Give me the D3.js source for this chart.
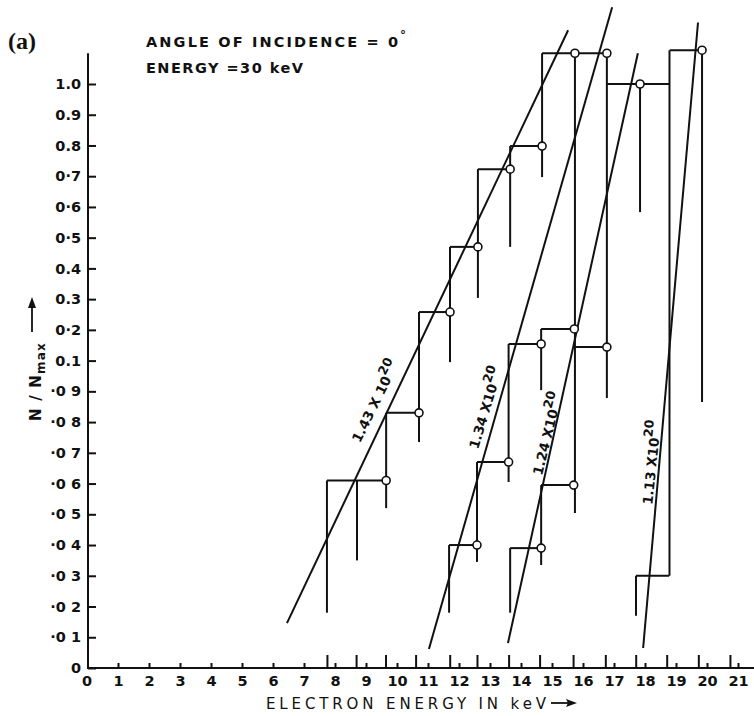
<html>
<head>
    <title>N/Nmax vs electron energy</title>
    <meta charset="UTF-8" />
    <script src="https://d3js.org/d3.v7.min.js"></script>

    <style>
        body { margin: 0; background: white; }
        text { font-family: "DejaVu Sans", sans-serif; fill: #111; }
        .axis path.domain { display: none; }
        .axis line { stroke: #111; stroke-width: 2; }
        .axis text { font-family: "DejaVu Sans", sans-serif; font-weight: bold; font-size: 14.5px; fill: #111; }
        .mark { stroke: #111; stroke-width: 2; fill: none; }
    </style>
</head>

<body>
    <svg height="716" width="754" id="svg1"></svg>

    <script>
        // ---- data ----
        const yTickValues = [0, 0.01, 0.02, 0.03, 0.04, 0.05, 0.06, 0.07, 0.08, 0.09,
                             0.1, 0.2, 0.3, 0.4, 0.5, 0.6, 0.7, 0.8, 0.9, 1.0];
        const yTickLabels = ["0", "·0 1", "·0 2", "·0 3", "·0 4", "·0 5", "·0 6", "·0 7", "·0 8", "·0 9",
                             "0.1", "0·2", "0.3", "0.4", "0·5", "0·6", "0·7", "0.8", "0.9", "1.0"];
        const xTickValues = [0, 1, 2, 3, 4, 5, 6, 7, 8, 9, 10, 11, 12, 13, 14, 15, 16, 17, 18, 19, 20, 21];
        const xTickLabels = ["0", "1", "2", "3", "4", "5", "6", "7", "8", "9", "10", "11", "12", "13",
                             "14", "15", "16", "17", "18", "19", "20", "21"];
        // channel edges (long ticks on the energy axis)
        const binEdges = [7.74, 8.68, 9.63, 10.6, 11.7, 12.58, 13.6, 14.6, 15.68, 16.72, 17.7, 18.7, 19.72, 20.74];

        // steps: [from keV, to keV, N/Nmax, open circle at right end]
        const stepsA = [[7.74, 9.65, 0.061, true], [9.65, 10.71, 0.083, true], [10.71, 11.71, 0.258, true],
                        [11.71, 12.61, 0.47, true], [12.61, 13.65, 0.723, true], [13.65, 14.68, 0.798, true],
                        [14.68, 15.74, 1.1, true]];
        const stepsB = [[11.68, 12.58, 0.040, true], [12.58, 13.6, 0.067, true], [13.6, 14.65, 0.154, true],
                        [14.65, 15.72, 0.203, true], [15.74, 16.77, 1.1, true]];
        const stepsC = [[13.65, 14.65, 0.039, true], [14.65, 15.7, 0.0595, true], [15.72, 16.77, 0.144, true],
                        [16.77, 17.84, 1.0, true], [17.84, 18.8, 1.0, false]];
        const stepsD = [[17.71, 18.78, 0.030, false], [18.8, 19.84, 1.11, true]];

        // vertical drops: [keV, top N/Nmax, bottom N/Nmax]
        const dropsA = [[7.74, 0.061, 0.018], [8.71, 0.061, 0.035], [9.65, 0.083, 0.052], [10.71, 0.258, 0.0735],
                        [11.71, 0.47, 0.0995], [12.61, 0.723, 0.304], [13.65, 0.798, 0.47], [14.68, 1.1, 0.697],
                        [15.74, 1.1, 0.0504]];
        const dropsB = [[11.68, 0.040, 0.018], [12.58, 0.067, 0.0345], [13.6, 0.154, 0.0605], [14.65, 0.203, 0.0904],
                        [16.77, 1.1, 0.0878]];
        const dropsC = [[13.65, 0.039, 0.018], [14.65, 0.0595, 0.0335], [17.84, 1.0, 0.583]];
        const dropsD = [[17.71, 0.030, 0.017], [18.79, 1.11, 0.030], [19.84, 1.11, 0.0865]];

        // fitted straight lines: [[keV, N/Nmax], [keV, N/Nmax]]
        const fitA = [[6.45, 0.0146], [15.52, 1.175]];
        const fitB = [[11.03, 0.0062], [16.94, 1.25]];
        const fitC = [[13.58, 0.0081], [17.77, 1.1]];
        const fitD = [[17.94, 0.0065], [19.71, 1.2]];

        const fitLabels = ["1.43 X 10", "1.34 X10", "1.24 X10", "1.13 X10"];
        const fitExponent = "20";
        const labelAnchors = [[8.81, 0.073], [12.61, 0.071], [14.68, 0.0625], [18.23, 0.053]];
        const labelAngles = [-64, -73, -76, -84];

        // ---- setup ----
        const svg1 = d3.select("svg#svg1");

        const x = d3.scaleLinear().domain([0, 21]).range([87, 738]);
        const y = d3.scaleLinear().domain([0, 0.1, 1.0]).range([668, 360.6, 84]);

        // axes
        svg1.append("g")
            .attr("class", "axis y")
            .attr("transform", "translate(88,0)")
            .call(d3.axisLeft(y).tickValues(yTickValues)
                  .tickFormat((d, i) => yTickLabels[i])
                  .tickSizeInner(-8).tickSizeOuter(0).tickPadding(7));

        svg1.append("line").attr("class", "mark")
            .attr("x1", 88).attr("x2", 88).attr("y1", y(0)).attr("y2", y(1.1));

        svg1.append("g")
            .attr("class", "axis x")
            .attr("transform", "translate(0," + y(0) + ")")
            .call(d3.axisBottom(x).tickValues(xTickValues.slice(1))
                  .tickFormat((d, i) => xTickLabels[i + 1])
                  .tickSizeInner(-5).tickSizeOuter(0).tickPadding(8));

        svg1.append("g")
            .attr("class", "axis x2")
            .attr("transform", "translate(0," + y(0) + ")")
            .call(d3.axisBottom(x).tickValues(binEdges).tickFormat("")
                  .tickSizeInner(-13).tickSizeOuter(0));

        svg1.append("text")
            .attr("x", x(0)).attr("y", y(0) + 8).attr("dy", "0.71em")
            .attr("text-anchor", "middle")
            .style("font-weight", "bold").style("font-size", "14.5px")
            .text(xTickLabels[0]);

        svg1.append("line").attr("class", "mark")
            .attr("x1", x(0)).attr("x2", 754).attr("y1", y(0)).attr("y2", y(0));

        // series
        const seriesSteps = [stepsA, stepsB, stepsC, stepsD];
        const seriesDrops = [dropsA, dropsB, dropsC, dropsD];
        const seriesFits = [fitA, fitB, fitC, fitD];

        const plot = svg1.append("g").attr("id", "plot");

        seriesDrops.forEach(drops => {
            plot.selectAll(null).data(drops).join("line")
                .attr("class", "mark")
                .attr("x1", d => x(d[0])).attr("x2", d => x(d[0]))
                .attr("y1", d => y(d[1])).attr("y2", d => y(d[2]));
        });

        seriesSteps.forEach(steps => {
            plot.selectAll(null).data(steps).join("line")
                .attr("class", "mark")
                .attr("x1", d => x(d[0])).attr("x2", d => x(d[1]))
                .attr("y1", d => y(d[2])).attr("y2", d => y(d[2]));
        });

        const lineGen = d3.line().x(d => x(d[0])).y(d => y(d[1]));
        seriesFits.forEach(fit => {
            plot.append("path").attr("class", "mark").attr("d", lineGen(fit));
        });

        seriesSteps.forEach(steps => {
            plot.selectAll(null).data(steps.filter(d => d[3])).join("circle")
                .attr("cx", d => x(d[1])).attr("cy", d => y(d[2]))
                .attr("r", 4)
                .style("fill", "white").style("stroke", "#111").style("stroke-width", 1.6);
        });

        // rotated labels on fitted lines
        fitLabels.forEach((lab, i) => {
            const t = plot.append("text")
                .attr("transform", "translate(" + x(labelAnchors[i][0]) + "," + y(labelAnchors[i][1]) + ") rotate(" + labelAngles[i] + ")")
                .style("font-size", "13.5px").style("font-weight", "bold");
            t.append("tspan").text(lab);
            t.append("tspan").attr("dy", -7).style("font-size", "12.5px").text(fitExponent);
        });

        // titles
        svg1.append("text").attr("x", 8).attr("y", 49)
            .style("font-family", "'Liberation Serif', serif").style("font-weight", "bold").style("font-size", "24px")
            .text("(a)");

        svg1.append("text").attr("x", 146).attr("y", 47)
            .attr("textLength", 252).attr("lengthAdjust", "spacing")
            .style("font-size", "14.5px").style("font-weight", "bold")
            .text("ANGLE OF INCIDENCE = 0");
        svg1.append("text").attr("x", 400).attr("y", 39)
            .style("font-size", "12px").style("font-weight", "bold")
            .text("°");
        svg1.append("text").attr("x", 146).attr("y", 73)
            .attr("textLength", 157).attr("lengthAdjust", "spacing")
            .style("font-size", "14.5px").style("font-weight", "bold")
            .text("ENERGY =30 keV");

        // x axis title
        svg1.append("text").attr("x", 266).attr("y", 709)
            .attr("textLength", 280).attr("lengthAdjust", "spacing")
            .style("font-size", "15px")
            .text("ELECTRON  ENERGY  IN  keV");
        svg1.append("line").attr("x1", 551).attr("x2", 573).attr("y1", 703).attr("y2", 703)
            .style("stroke", "#111").style("stroke-width", 1.8);
        svg1.append("path").attr("d", "M577,703 L566,699 L568,703 L566,707 Z").style("fill", "#111");

        // y axis title
        const yTitle = svg1.append("text")
            .attr("transform", "translate(41,421) rotate(-90)")
            .style("font-size", "15px").style("font-weight", "bold").style("letter-spacing", "1.2px");
        yTitle.append("tspan").text("N / N");
        yTitle.append("tspan").attr("dy", 4).style("font-size", "12px").text("max");
        svg1.append("line").attr("x1", 32).attr("x2", 32).attr("y1", 332).attr("y2", 304)
            .style("stroke", "#111").style("stroke-width", 1.8);
        svg1.append("path").attr("d", "M32,297 L28,308 L36,308 Z").style("fill", "#111");
    </script>
</body>
</html>
